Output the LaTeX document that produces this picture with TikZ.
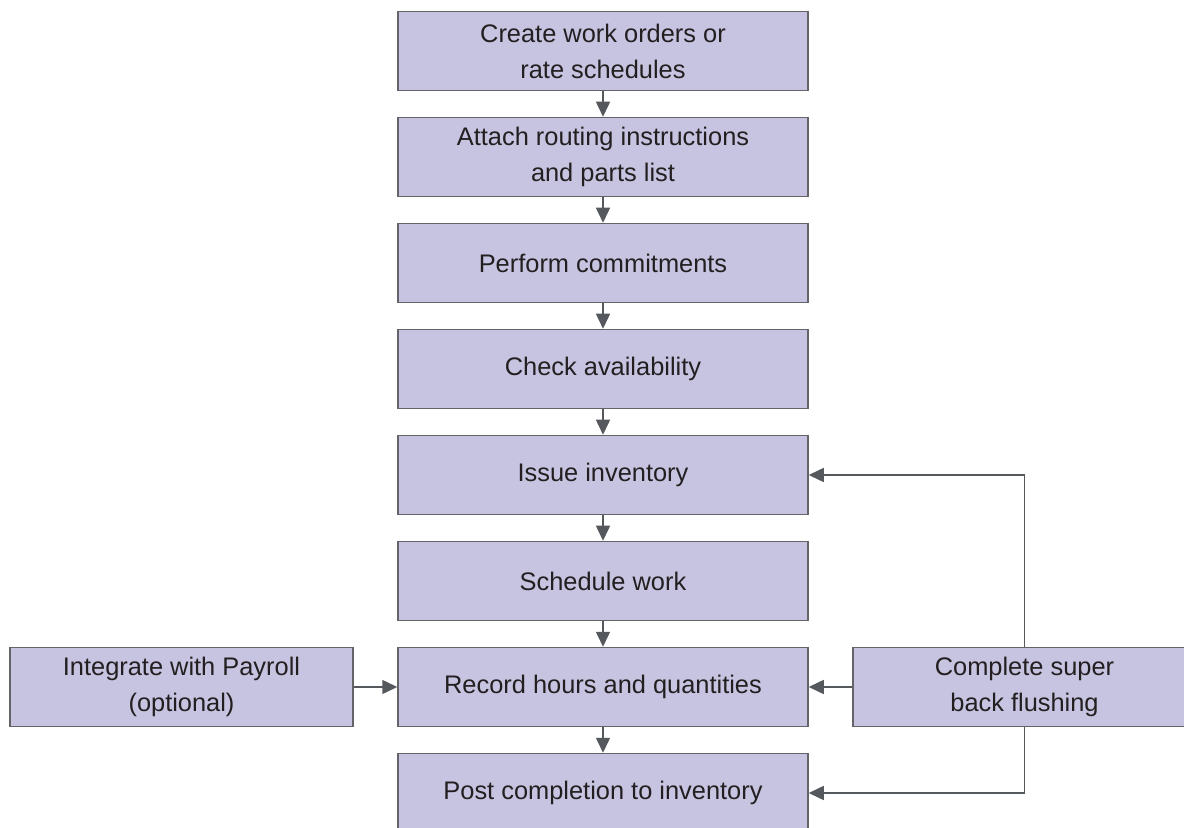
\documentclass[tikz,border=0pt]{standalone}
\usepackage{fontspec}
\setmainfont{Liberation Sans}
\usetikzlibrary{positioning,arrows.meta}
\definecolor{boxfill}{RGB}{199,196,225}
\definecolor{boxline}{RGB}{100,100,104}
\definecolor{flowline}{RGB}{85,88,92}
\definecolor{boxtext}{RGB}{35,31,32}
\tikzset{
  % Two box styles for the flow: main column and side boxes
  process node/.style={rectangle,draw=boxline,fill=boxfill,line width=0.75pt,minimum width=205pt,minimum height=39.5pt,inner sep=0pt,align=center,text=boxtext,font=\fontsize{12.7}{18}\selectfont},
  side node/.style={process node,minimum width=171.5pt},
  flow arrow/.style={draw=flowline,line width=0.75pt,-{Triangle[length=7.5pt,width=7pt]}}
}

\begin{document}
\begin{tikzpicture}
[node distance=12.75pt]
\useasboundingbox (0,0) rectangle (592pt,-414pt);
\node[process node] (orders) at (301.5pt,-25.5pt) {Create work orders or\\rate schedules};
\node[process node,below=of orders] (routing) {Attach routing instructions\\and parts list};
\node[process node,below=of routing] (commit) {Perform commitments};
\node[process node,below=of commit] (avail) {Check availability};
\node[process node,below=of avail] (issue) {Issue inventory};
\node[process node,below=of issue] (sched) {Schedule work};
\node[process node,below=of sched] (record) {Record hours and quantities};
\node[process node,below=of record] (post) {Post completion to inventory};
\node[side node,left=21.75pt of record] (payroll) {Integrate with Payroll\\(optional)};
\node[side node,right=21.75pt of record] (flush) {Complete super\\back flushing};
\draw[flow arrow] (orders) -- (routing);
\draw[flow arrow] (routing) -- (commit);
\draw[flow arrow] (commit) -- (avail);
\draw[flow arrow] (avail) -- (issue);
\draw[flow arrow] (issue) -- (sched);
\draw[flow arrow] (sched) -- (record);
\draw[flow arrow] (record) -- (post);
\draw[flow arrow] (payroll) -- (record);
\draw[flow arrow] (flush) -- (record);
\draw[flow arrow] (flush.north) |- (issue.east);
\draw[flow arrow] (flush.south) |- (post.east);
\end{tikzpicture}
\end{document}
